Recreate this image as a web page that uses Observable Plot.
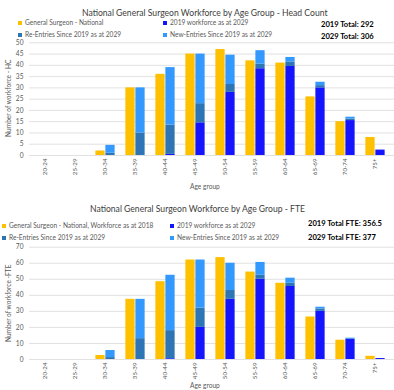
<!DOCTYPE html>
<html><head><meta charset="utf-8">
<script src="https://cdn.jsdelivr.net/npm/d3@7"></script>
<script src="https://cdn.jsdelivr.net/npm/@observablehq/plot@0.6"></script>
<style>
body{margin:0;background:#fff;font-family:Lato,"Liberation Sans",sans-serif;}
#wrap{position:relative;width:394px;height:390px;overflow:hidden;background:#fff;}
.t{position:absolute;white-space:nowrap;line-height:1;}
.title{font-size:8.6px;color:#404040;}
.leg{font-size:6.6px;color:#595959;}
.leg i{display:inline-block;width:4px;height:4px;margin-right:3px;vertical-align:0px;}
.tot{font-size:7.6px;font-weight:bold;color:#000;}
.ylab{font-size:6.6px;color:#595959;transform:rotate(-90deg);transform-origin:center center;}
.xlab{font-size:6.6px;color:#595959;}
svg{position:absolute;left:0;}
</style></head><body><div id="wrap"></div>
<script>
const ageGroups = ["20-24","25-29","30-34","35-39","40-44","45-49","50-54","55-59","60-64","65-69","70-74","75+"];
const seriesNames = ["General Surgeon - National","2019 workforce as at 2029","Re-Entries Since 2019 as at 2029","New-Entries Since 2019 as at 2029"];
const seriesNamesFTE = ["General Surgeon - National, Workforce as at 2018","2019 workforce as at 2029","Re-Entries Since 2019 as at 2029","New-Entries Since 2019 as at 2029"];
const colors = ["#FFC000","#1414FF","#2E75B6","#3399FF"];

// Head count
const hcNational = [0,0,2,30,36,45,47,42,41,26,15,8];
const hc2019 =     [0,0,0,0,0.5,14.5,28,38.5,39.5,30,15.5,2.4];
const hcReEntry =  [0,0,1,10,13,8.5,3.5,2,2,1,0.7,0];
const hcNewEntry = [0,0,3.5,20,25.5,22,13,6,2,1.5,0.8,0];
const hcTotals = ["2019 Total: 292","2029 Total: 306"];

// FTE
const fteNational = [0,0,2.5,37.5,48.5,62,63.5,54.5,47.5,26.5,12,2];
const fte2019 =     [0,0,0,0,0.5,20,37.5,50,45.5,30,12.5,0.6];
const fteReEntry =  [0,0,1.2,13,17.5,12,5.5,2.5,2,1.5,0.4,0];
const fteNewEntry = [0,0,4.4,24.5,34.5,30,17,8,3.2,1.1,0.4,0];
const fteTotals = ["2019 Total FTE: 356.5","2029 Total FTE: 377"];

const wrap = document.getElementById("wrap");
function addText(cls, txt, x, y, extra){
  const d = document.createElement("div");
  d.className = "t " + cls;
  d.textContent = txt;
  d.style.left = x + "px"; d.style.top = y + "px";
  if (extra) Object.assign(d.style, extra);
  wrap.appendChild(d);
  return d;
}
function addLegend(txt, color, x, y){
  const d = document.createElement("div");
  d.className = "t leg";
  d.style.left = x + "px"; d.style.top = y + "px";
  const i = document.createElement("i"); i.style.background = color;
  d.appendChild(i);
  d.appendChild(document.createTextNode(txt));
  wrap.appendChild(d);
}

function chart(opts){
  const {national, w2019, reEntry, newEntry, yMax, yStep, top, height, mt, mb} = opts;
  const L = 25, R = 394;
  const bw = (R - L) / ageGroups.length;
  const natRows = ageGroups.map((a,i)=>({age:a, value:national[i]}));
  const stackRows = [];
  ageGroups.forEach((a,i)=>{
    stackRows.push({age:a, series:seriesNames[1], value:w2019[i]});
    stackRows.push({age:a, series:seriesNames[2], value:reEntry[i]});
    stackRows.push({age:a, series:seriesNames[3], value:newEntry[i]});
  });
  const ticks = d3.range(0, yMax + 0.001, yStep);
  const p = Plot.plot({
    width: 394, height, marginLeft: 29, marginRight: 0, marginTop: mt, marginBottom: mb,
    style: {fontFamily: "Lato, 'Liberation Sans', sans-serif", fontSize: "6.6px", color: "#595959", background: "transparent"},
    x: {domain: ageGroups, range: [L, R], padding: 0},
    y: {domain: [0, yMax]},
    color: {domain: seriesNames.slice(1), range: colors.slice(1)},
    marks: [
      Plot.gridY(ticks, {stroke: "#d9d9d9", strokeOpacity: 1, strokeWidth: 0.8}),
      Plot.axisY(ticks, {tickSize: 0, tickPadding: 6, label: null, fontSize: 6.6}),
      Plot.axisX({tickRotate: -90, tickSize: 0, tickPadding: 3, label: null, fontSize: 6.2}),
      Plot.barY(natRows, {x: "age", y: "value", fill: colors[0], insetLeft: bw/2 - 10, insetRight: bw/2}),
      Plot.barY(stackRows, {x: "age", y: "value", fill: "series", insetLeft: bw/2, insetRight: bw/2 - 10})
    ]
  });
  p.style.top = top + "px";
  wrap.appendChild(p);
}

// Top chart
addText("title", "National General Surgeon Workforce by Age Group - Head Count", 82, 9);
addLegend(seriesNames[0], colors[0], 18, 19);
addLegend(seriesNames[1], colors[1], 163, 19);
addLegend(seriesNames[2], colors[2], 18, 31);
addLegend(seriesNames[3], colors[3], 163, 31);
addText("tot", hcTotals[0], 321, 21);
addText("tot", hcTotals[1], 321, 33);
chart({national: hcNational, w2019: hc2019, reEntry: hcReEntry, newEntry: hcNewEntry,
  yMax: 50, yStep: 5, top: 38, height: 152, mt: 4.3, mb: 35});
addText("ylab", "Number of workforce - HC", -30, 95);
addText("xlab", "Age group", 190, 183);

// Bottom chart
addText("title", "National General Surgeon Workforce by Age Group - FTE", 90, 205);
addLegend(seriesNamesFTE[0], colors[0], 2, 222);
addLegend(seriesNamesFTE[1], colors[1], 170, 222);
addLegend(seriesNamesFTE[2], colors[2], 2, 234);
addLegend(seriesNamesFTE[3], colors[3], 170, 234);
addText("tot", fteTotals[0], 308, 220);
addText("tot", fteTotals[1], 308, 234);
chart({national: fteNational, w2019: fte2019, reEntry: fteReEntry, newEntry: fteNewEntry,
  yMax: 70, yStep: 10, top: 242, height: 148, mt: 4.7, mb: 31});
addText("ylab", "Number of workforce -FTE", -30, 300);
addText("xlab", "Age group", 190, 382);
</script>
</body></html>
